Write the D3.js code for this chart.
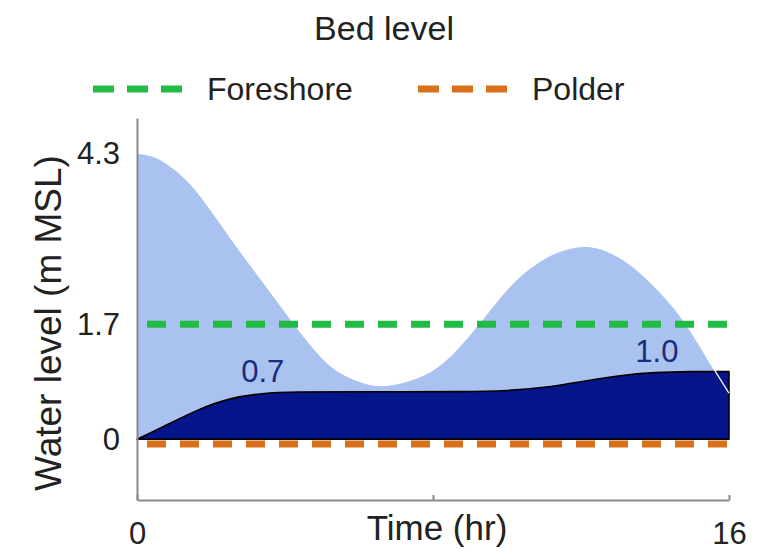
<!DOCTYPE html>
<html>
<head>
<meta charset="utf-8">
<script src="https://cdn.jsdelivr.net/npm/d3@7"></script>
<style>
  html, body { margin: 0; padding: 0; background: #fff; }
  svg { display: block; font-family: "Liberation Sans", Arial, Helvetica, sans-serif; }
</style>
</head>
<body>
<svg id="chart" width="757" height="555"></svg>
<script>
// ---- data ----
const waterT = [0, 0.5, 1, 1.6, 2.5, 3.4, 4.2, 5.2, 6.1, 6.8, 7.9, 8.7, 9.2, 9.7, 10.2, 10.6, 11.0, 11.5, 12.2, 13, 13.8, 14.7, 15.4, 16];
const waterV = [4.23, 4.17, 4.0, 3.68, 3.0, 2.33, 1.74, 1.1, 0.84, 0.80, 0.99, 1.36, 1.68, 2.02, 2.33, 2.52, 2.67, 2.79, 2.85, 2.70, 2.36, 1.81, 1.21, 0.68];
const bedT = [0, 0.7, 1.6, 2.5, 3.4, 4.2, 6, 9, 10, 11, 12, 13, 14, 15, 16];
const bedV = [0, 0.18, 0.43, 0.61, 0.68, 0.70, 0.70, 0.70, 0.715, 0.76, 0.85, 0.94, 0.99, 1.0, 1.0];
const foreshoreLevel = 1.7;
const polderLevel = -0.07;
const annotT = [3.4, 14.05];
const annotV = [0.7, 1.0];
const annotLabels = ["0.7", "1.0"];
const xTickValues = [0, 8, 16];
const xTickLabels = ["0", "", "16"];
const yTickValues = [0, 1.7, 4.23];
const yTickLabels = ["0", "1.7", "4.3"];
const legendNames = ["Foreshore", "Polder"];
const titleText = "Bed level";
const xTitle = "Time (hr)";
const yTitle = "Water level (m MSL)";

// ---- layout ----
const svg = d3.select("#chart");
const x = d3.scaleLinear().domain([0, 16]).range([137, 729]);
const y = d3.scaleLinear().domain([-0.9, 4.75]).range([500, 118]);

const GREEN = "#22bb44";
const ORANGE = "#d9711a";
const WATER = "#aac2ef";
const BED = "#06158a";
const AXIS = "#8a8a8a";
const TEXT = "#222";

const water = waterT.map((t, i) => ({t, v: waterV[i]}));
const bed = bedT.map((t, i) => ({t, v: bedV[i]}));
const smooth = d3.curveNatural;

// water area
svg.append("path")
  .datum(water)
  .attr("fill", WATER)
  .attr("d", d3.area().x(d => x(d.t)).y0(y(0)).y1(d => y(d.v)).curve(smooth));

// bed area
svg.append("path")
  .datum(bed)
  .attr("fill", BED)
  .attr("stroke", "#000")
  .attr("stroke-width", 1.6)
  .attr("stroke-linejoin", "round")
  .attr("d", d3.area().x(d => x(d.t)).y0(y(0)).y1(d => y(d.v)).curve(d3.curveBasis));

// white edge of water surface
svg.append("path")
  .datum(water)
  .attr("fill", "none")
  .attr("stroke", "#fff")
  .attr("stroke-width", 1.2)
  .attr("d", d3.line().x(d => x(d.t)).y(d => y(d.v)).curve(smooth));

// reference dashed lines
function hline(level, color) {
  svg.append("line")
    .attr("x1", x(0)).attr("x2", x(16))
    .attr("y1", y(level)).attr("y2", y(level))
    .attr("stroke", color)
    .attr("stroke-width", 7)
    .attr("stroke-dasharray", "19,14")
    .attr("stroke-dashoffset", 23);
}
hline(foreshoreLevel, GREEN);
hline(polderLevel, ORANGE);

// annotations
svg.selectAll("text.annot")
  .data(annotLabels)
  .join("text")
  .attr("class", "annot")
  .attr("x", (d, i) => x(annotT[i]))
  .attr("y", (d, i) => y(annotV[i]) - 10)
  .attr("text-anchor", "middle")
  .attr("font-size", 31)
  .attr("fill", "#1b2c7c")
  .text(d => d);

// axes
const xAxis = d3.axisBottom(x)
  .tickValues(xTickValues)
  .tickFormat((d, i) => xTickLabels[i])
  .tickSizeInner(-5).tickSizeOuter(0).tickPadding(22);
const gx = svg.append("g").attr("transform", `translate(0,${y(-0.9)})`).call(xAxis);

const yAxis = d3.axisLeft(y)
  .tickValues(yTickValues)
  .tickFormat((d, i) => yTickLabels[i])
  .tickSizeInner(0).tickSizeOuter(0).tickPadding(17);
const gy = svg.append("g").attr("transform", `translate(${x(0)},0)`).call(yAxis);

[gx, gy].forEach(g => {
  g.select(".domain").attr("stroke", AXIS).attr("stroke-width", 2);
  g.selectAll(".tick line").attr("stroke", AXIS).attr("stroke-width", 2);
  g.selectAll(".tick text").attr("font-size", 31).attr("fill", TEXT)
    .attr("font-family", "Liberation Sans, Arial, sans-serif");
});

// axis titles
svg.append("text")
  .attr("x", 437).attr("y", 540)
  .attr("text-anchor", "middle")
  .attr("font-size", 35).attr("fill", TEXT)
  .text(xTitle);

svg.append("text")
  .attr("transform", "translate(61,323) rotate(-90)")
  .attr("text-anchor", "middle")
  .attr("font-size", 37).attr("fill", TEXT)
  .text(yTitle);

// title
svg.append("text")
  .attr("x", 384).attr("y", 40)
  .attr("text-anchor", "middle")
  .attr("font-size", 34).attr("fill", TEXT)
  .text(titleText);

// legend
const legendColors = [GREEN, ORANGE];
const legendX = [93, 418];
const lg = svg.append("g");
legendNames.forEach((name, i) => {
  lg.append("line")
    .attr("x1", legendX[i]).attr("x2", legendX[i] + 89)
    .attr("y1", 89).attr("y2", 89)
    .attr("stroke", legendColors[i])
    .attr("stroke-width", 7)
    .attr("stroke-dasharray", "21,13");
  lg.append("text")
    .attr("x", legendX[i] + 114).attr("y", 100)
    .attr("font-size", 32).attr("fill", TEXT)
    .text(name);
});
</script>
</body>
</html>
